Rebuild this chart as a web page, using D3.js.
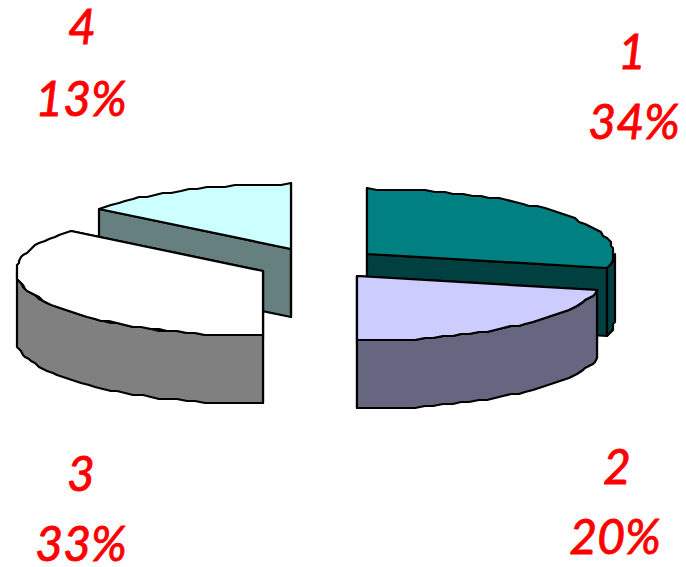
<!DOCTYPE html>
<html lang="en">
<head>
<meta charset="utf-8">
<title>Exploded 3D pie</title>
<script src="https://cdnjs.cloudflare.com/ajax/libs/d3/7.8.5/d3.min.js"></script>
<style>
  html, body { margin: 0; padding: 0; background: #fff; }
  svg { display: block; }
  text { font-family: "Lato", "Open Sans", sans-serif; font-style: italic; fill: #ff0000; stroke: #ff0000; stroke-width: 0.9px; text-anchor: middle; font-size: 48px; }
</style>
</head>
<body>
<svg id="canvas" width="686" height="567"></svg>
<script>
// Data
const categories = ["1", "2", "3", "4"];
const shares = [34, 20, 33, 13];
const topColors = ["#008080", "#ccccff", "#ffffff", "#ccffff"];
const wallColors = ["#004040", "#666680", "#808080", "#668080"];

// Where each slice got pulled to, and where its labels go
const apexX = [367, 357, 263, 291];
const apexY = [254, 276, 271, 249];
const labelX = [632, 617, 81, 82];
const labelY = [69, 484, 491, 44];
const percentX = [634, 615, 81, 81];
const percentY = [139, 554, 561, 116];

const radiusX = 247, radiusY = 65, depth = 68;
const drawOrder = [3, 2, 0, 1];

const svg = d3.select("#canvas");

const slices = d3.pie().sort(null).value(d => d)(shares);

// the perspective of the original squeezes the angles, so the pie angle
// goes through a piecewise scale before it lands on the ellipse
const angle = d3.scaleLinear()
    .domain([0, ...d3.cumsum(shares)].map(v => v / d3.sum(shares) * 2 * Math.PI))
    .range([0, 103, 180, 309, 360].map(v => v * Math.PI / 180));

const line = d3.line();

// rounding to a small grid gives the wobbly outline of the old picture
function rimPoint(i, a) {
    return [
        apexX[i] + Math.round(radiusX * Math.sin(a) / 2) * 2,
        apexY[i] - Math.round(radiusY * Math.cos(a) / 2) * 2
    ];
}

function rimPoints(i, a0, a1) {
    const n = Math.max(2, Math.ceil((a1 - a0) / 0.04));
    return d3.range(n + 1).map(k => rimPoint(i, a0 + (a1 - a0) * k / n));
}

function drawShape(pts, fill) {
    svg.append("path")
        .attr("d", line(pts) + "Z")
        .attr("fill", fill)
        .attr("stroke", "#000")
        .attr("stroke-width", 2.2)
        .attr("stroke-linejoin", "round");
}

drawOrder.forEach(i => {
    const a0 = angle(slices[i].startAngle);
    const a1 = angle(slices[i].endAngle);
    const apex = [apexX[i], apexY[i]];
    const down = p => [p[0], p[1] + depth];

    // cut faces
    [a0, a1].forEach(a => {
        const r = rimPoint(i, a);
        drawShape([apex, r, down(r), down(apex)], wallColors[i]);
    });

    // outer wall, only the part facing us
    const w0 = Math.max(a0, Math.PI / 2);
    const w1 = Math.min(a1, Math.PI * 1.5);
    if (w1 > w0) {
        const edge = rimPoints(i, w0, w1);
        drawShape(edge.concat(edge.map(down).reverse()), wallColors[i]);
    }

    // top
    drawShape([apex].concat(rimPoints(i, a0, a1)), topColors[i]);
});

// Labels
svg.selectAll("text.cat")
    .data(categories)
    .join("text")
    .attr("class", "cat")
    .attr("x", (d, i) => labelX[i])
    .attr("y", (d, i) => labelY[i])
    .text(d => d);

svg.selectAll("text.pct")
    .data(shares)
    .join("text")
    .attr("class", "pct")
    .attr("x", (d, i) => percentX[i])
    .attr("y", (d, i) => percentY[i])
    .text(d => d + "%");
</script>
</body>
</html>
